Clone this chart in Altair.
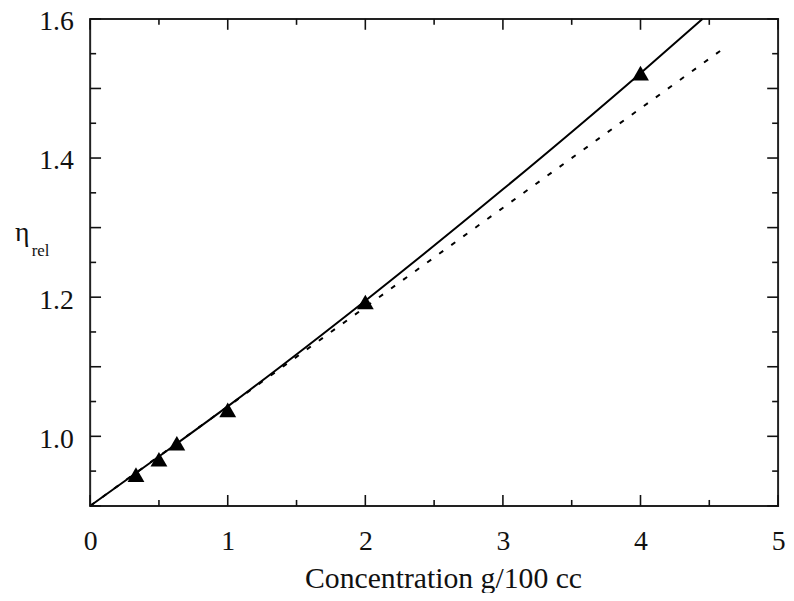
import altair as alt
import pandas as pd

# Measured data (triangles)
conc = [0.333, 0.5, 0.63, 1.0, 2.0, 4.0]
eta_rel = [0.945, 0.967, 0.99, 1.038, 1.193, 1.522]

# Solid fitted curve
fit_conc = [0.0, 0.5, 1.0, 2.0, 3.0, 4.0, 4.45]
fit_eta = [0.9, 0.971, 1.043, 1.195, 1.355, 1.522, 1.6]

# Dashed straight line
lin_conc = [0.0, 4.6]
lin_eta = [0.9, 1.557]

# Axis ticks / labels
x_labels = [0, 1, 2, 3, 4, 5]
x_major = [0, 1, 2, 3, 4, 5]
x_minor = [0.5, 1.5, 2.5, 3.5, 4.5]
y_labels = [1.0, 1.2, 1.4, 1.6]
y_major = [0.9, 1.0, 1.1, 1.2, 1.3, 1.4, 1.5, 1.6]
y_minor = [0.95, 1.05, 1.15, 1.25, 1.35, 1.45, 1.55]

x_title = "Concentration g/100 cc"
y_title_main = "η"
y_title_sub = "rel"

W, H = 695, 492
FONT = "'Liberation Serif', 'Times New Roman', 'DejaVu Serif', serif"
INK = "#111111"
LONG, SHORT = 11, 6

xs = alt.Scale(domain=[0, 5], nice=False, zero=False)
ys = alt.Scale(domain=[0.9, 1.6], nice=False, zero=False)

ax_x = alt.Axis(
    values=x_labels, ticks=False, domain=False, grid=False,
    labelFont=FONT, labelFontSize=28, labelColor=INK, labelPadding=22,
    labelFlush=False, labelOverlap=False, format="d",
    title=x_title, titleFont=FONT, titleFontSize=30, titleFontWeight="normal",
    titleColor=INK, titleX=356.5, titleY=82, titleBaseline="alphabetic",
    titleAlign="center")
ax_y = alt.Axis(
    values=y_labels, format=".1f", ticks=False, domain=False, grid=False,
    labelFont=FONT, labelFontSize=28, labelColor=INK, labelPadding=17,
    labelOffset=3, labelFlush=False, labelOverlap=False, title=None)

X = lambda: alt.X("x:Q", scale=xs, axis=ax_x)
Y = lambda: alt.Y("y:Q", scale=ys, axis=ax_y)

pts = pd.DataFrame({"x": conc, "y": eta_rel})
fit = pd.DataFrame({"x": fit_conc, "y": fit_eta})
lin = pd.DataFrame({"x": lin_conc, "y": lin_eta})

points = alt.Chart(pts).mark_point(
    shape="triangle-up", filled=True, size=290, color="#000000", opacity=1
).encode(x=X(), y=Y())

solid = alt.Chart(fit).mark_line(
    color="#000000", strokeWidth=2, interpolate="monotone"
).encode(x=X(), y=Y())

dashed = alt.Chart(lin).mark_line(
    color="#000000", strokeWidth=2, strokeDash=[5, 10]
).encode(x=X(), y=Y())


def xticks(vals, length, top):
    df = pd.DataFrame({"x": vals})
    y0 = 0 if top else H
    y1 = length if top else H - length
    return alt.Chart(df).mark_rule(color=INK, strokeWidth=1.6).encode(
        x=X(), y=alt.value(y0), y2=alt.value(y1))


def yticks(vals, length, right):
    df = pd.DataFrame({"y": vals})
    x0 = W if right else 0
    x1 = W - length if right else length
    return alt.Chart(df).mark_rule(color=INK, strokeWidth=1.6).encode(
        y=Y(), x=alt.value(x0), x2=alt.value(x1))


ticks = [
    xticks(x_major, LONG, False), xticks(x_minor, SHORT, False),
    xticks(x_major, LONG, True), xticks(x_minor, SHORT, True),
    yticks(y_major, LONG, False), yticks(y_minor, SHORT, False),
    yticks(y_major, LONG, True), yticks(y_minor, SHORT, True),
]

eta_txt = alt.Chart(pd.DataFrame({"t": [y_title_main]})).mark_text(
    font=FONT, fontSize=28, color=INK, align="left", baseline="alphabetic"
).encode(text="t:N", x=alt.value(-76), y=alt.value(224))

rel_txt = alt.Chart(pd.DataFrame({"t": [y_title_sub]})).mark_text(
    font=FONT, fontSize=17, color=INK, align="left", baseline="alphabetic"
).encode(text="t:N", x=alt.value(-59), y=alt.value(240))

chart = alt.layer(points, dashed, solid, *ticks, eta_txt, rel_txt).properties(
    width=W, height=H,
    autosize=alt.AutoSizeParams(type="none"),
    padding={"left": 83, "top": 8, "right": 8, "bottom": 85},
).configure_view(stroke="#222222", strokeWidth=2)

chart.save("out.html", embed_options={"renderer": "svg", "actions": False})
